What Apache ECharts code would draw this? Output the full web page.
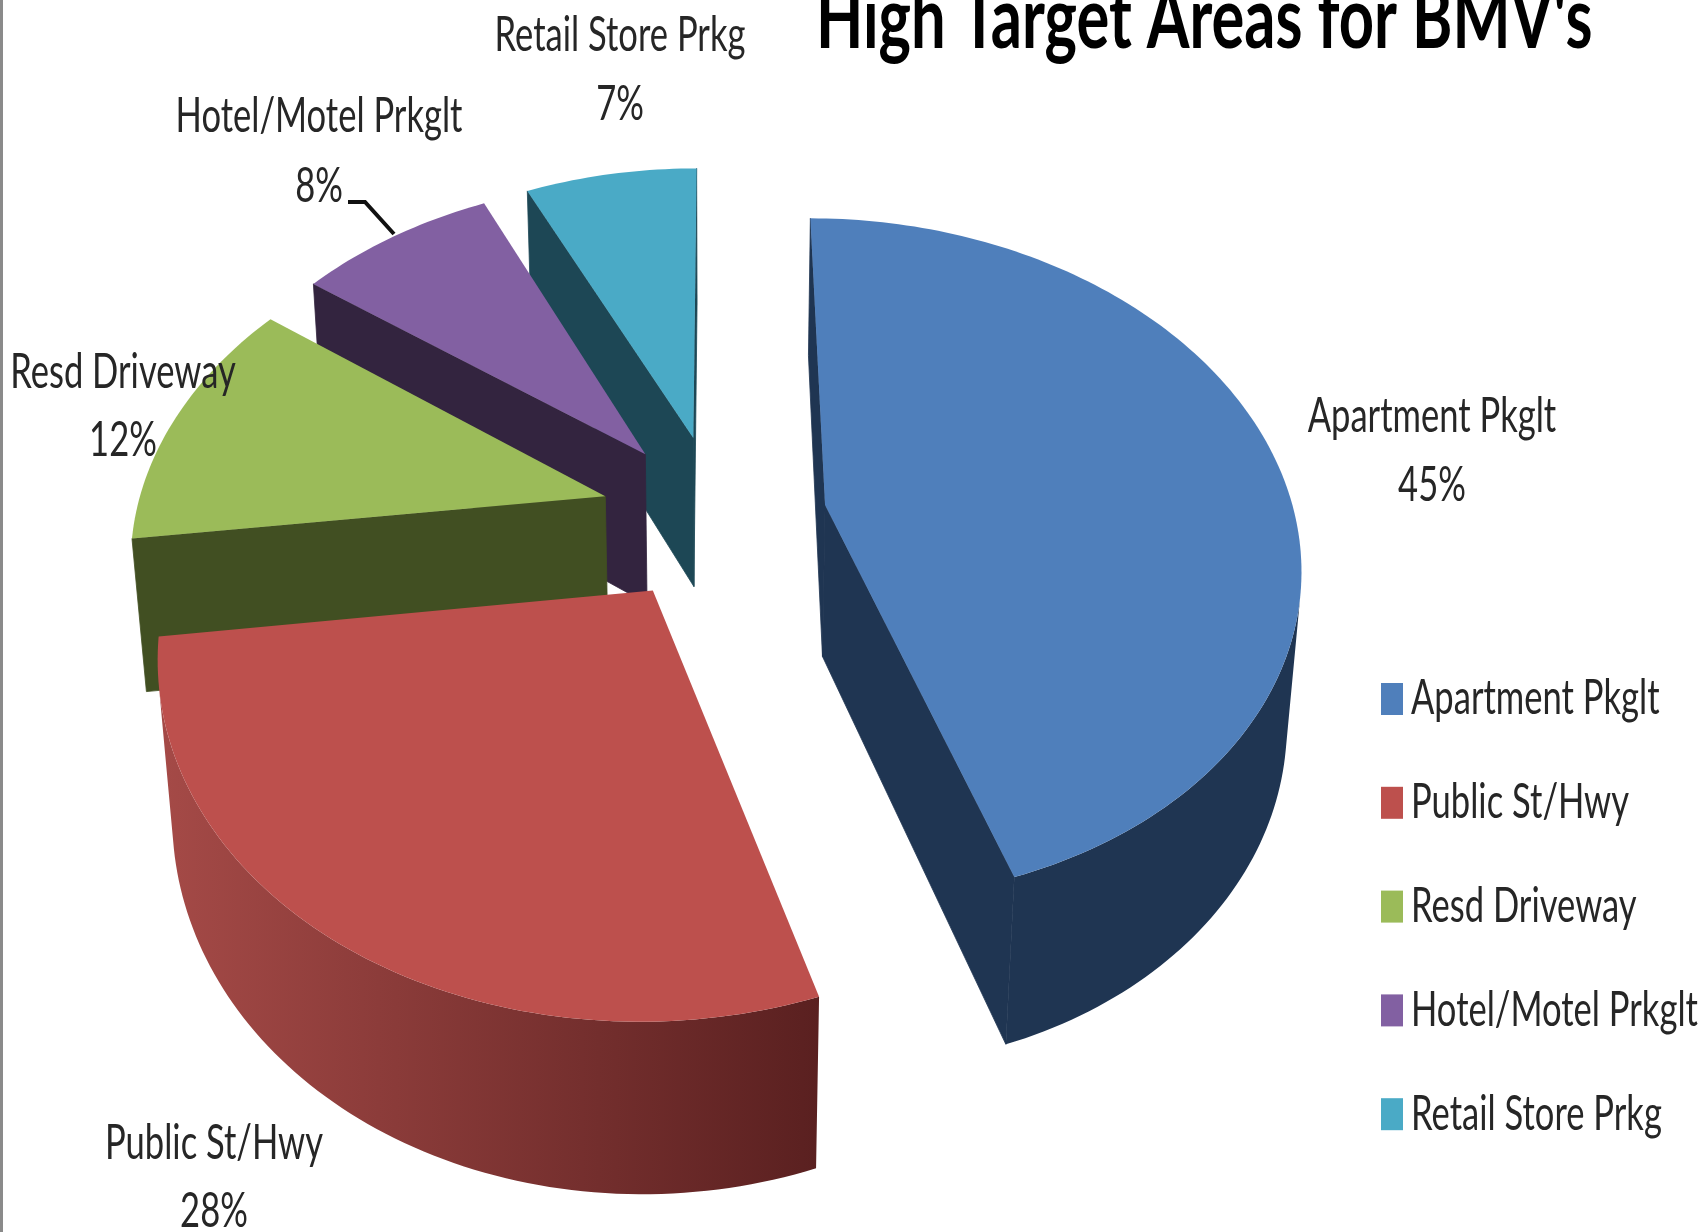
<!DOCTYPE html>
<html>
<head>
<meta charset="utf-8">
<title>High Target Areas for BMV's</title>
<script src="https://cdn.jsdelivr.net/npm/echarts@6/dist/echarts.min.js"></script>
<style>
    html, body { margin: 0; padding: 0; background: #fff; }
    #main { width: 1704px; height: 1232px; }
</style>
</head>
<body>
<div id="main"></div>
<script>
const categories = ['Apartment Pkglt', 'Public St/Hwy', 'Resd Driveway', 'Hotel/Motel Prkglt', 'Retail Store Prkg']
const shares = [45, 28, 12, 8, 7]
const topColors = ['#4f7fbb', '#bd504d', '#9bbb59', '#8260a2', '#4aaac6']
const wallFrom = ['#1f3552', '#a54a47', '#414f22', '#33243f', '#1d4755']
const wallTo = ['#1f3552', '#5a2020', '#414f22', '#33243f', '#1d4755']
const explodes = [0.232, 0.25, 0.25, 0.25, 0.25]

// 画的先后：后面的块先画，红色最后
const paintOrder = [3, 5, 2, 1, 0]
const labelFont = 'Lato, "Open Sans", sans-serif'
const labelStretch = 0.72

// 3D投影参数
const view = { cx: 718, cy: 517, a: 470, b: 336, depth: 156, k: 0.16, m: 0.025 }
const labelPlaces = [
    { x: 1432, y: 417, py: 486 },
    { x: 214, y: 1144, py: 1212 },
    { x: 123, y: 373, py: 441 },
    { x: 319, y: 117, py: 187 },
    { x: 620, y: 36, py: 105 }
]

const total = shares.reduce((x, y) => x + y)

const project = (u, v, z) => {
    const w = 1 + view.k * v + view.m * z
    return [view.cx + view.a * u / w, view.cy + (-view.b * v + view.depth * z) / w]
}

const sliceRange = index => {
    const before = shares.slice(0, index).reduce((x, y) => x + y, 0)
    return [before / total * Math.PI * 2, (before + shares[index]) / total * Math.PI * 2]
}

const textStyle = (text, extra) => Object.assign({
    text: text,
    fontFamily: labelFont,
    fontSize: 48,
    fill: '#262626',
    align: 'center',
    verticalAlign: 'middle'
}, extra)

// 侧面是否朝向镜头
const facesCamera = (p, q) => {
    const p0 = project(p[0], p[1], 0)
    const q0 = project(q[0], q[1], 0)
    const p1 = project(p[0], p[1], 1)
    return (q0[0] - p0[0]) * (p1[1] - p0[1]) - (q0[1] - p0[1]) * (p1[0] - p0[0]) < 0
}

const renderSlice = index => () => {
    const [start, end] = sliceRange(index)
    const mid = (start + end) / 2
    const ou = Math.sin(mid) * explodes[index]
    const ov = Math.cos(mid) * explodes[index]
    const steps = Math.ceil((end - start) / 0.02)
    const rim = []
    for (let i = 0; i <= steps; i++) {
        const t = start + (end - start) * i / steps
        rim.push([ou + Math.sin(t), ov + Math.cos(t)])
    }
    const apex = [ou, ov]
    const children = []

    const flatWall = (p, q) => {
        if (!facesCamera(p, q)) {
            return
        }
        const fill = wallFrom[index]
        children.push({
            type: 'polygon',
            shape: { points: [project(p[0], p[1], 0), project(q[0], q[1], 0), project(q[0], q[1], 1), project(p[0], p[1], 1)] },
            style: { fill: fill, stroke: fill, lineWidth: 0.8 }
        })
    }
    flatWall(apex, rim[0])
    flatWall(rim[steps], apex)

    // 外弧从左到右逐渐变暗
    const visible = rim.filter((p, i) => {
        return (i < steps && facesCamera(p, rim[i + 1])) || (i > 0 && facesCamera(rim[i - 1], p))
    })
    if (visible.length > 1) {
        const upper = visible.map(p => project(p[0], p[1], 0))
        const lower = visible.map(p => project(p[0], p[1], 1)).reverse()
        const xs = upper.map(p => p[0])
        children.push({
            type: 'polygon',
            shape: { points: upper.concat(lower) },
            style: {
                fill: {
                    type: 'linear',
                    global: true,
                    x: Math.min(...xs),
                    y: 0,
                    x2: Math.max(...xs),
                    y2: 0,
                    colorStops: [
                        { offset: 0, color: wallFrom[index] },
                        { offset: 1, color: wallTo[index] }
                    ]
                }
            }
        })
    }

    children.push({
        type: 'polygon',
        shape: { points: [apex].concat(rim).map(p => project(p[0], p[1], 0)) },
        style: { fill: topColors[index] }
    })

    if (index === 3) {
        children.push({
            type: 'polyline',
            shape: { points: [[348, 202], [365, 202], [394, 234]] },
            style: { stroke: '#111', lineWidth: 4, fill: null }
        })
    }

    const place = labelPlaces[index]
    children.push({ type: 'text', x: place.x, y: place.y, scaleX: labelStretch, style: textStyle(categories[index]) })
    children.push({ type: 'text', x: place.x, y: place.py, scaleX: labelStretch, style: textStyle(shares[index] + '%') })
    return { type: 'group', children: children }
}

// 图例文字要压窄，legend组件做不到，用graphic画
const legendItems = []
categories.forEach((name, index) => {
    const top = 683 + index * 103.8
    legendItems.push({
        type: 'rect',
        shape: { x: 1381, y: top, width: 22, height: 32 },
        style: { fill: topColors[index] }
    })
    legendItems.push({
        type: 'text',
        x: 1411,
        y: top + 16,
        scaleX: labelStretch,
        style: textStyle(name, { align: 'left' })
    })
})

const chart = echarts.init(document.getElementById('main'))
chart.setOption({
    animation: false,
    backgroundColor: '#fff',
    graphic: [
        {
            type: 'rect',
            shape: { x: 0, y: 0, width: 3, height: 1232 },
            style: { fill: '#8a8a8a' }
        },
        {
            type: 'text',
            x: 816,
            y: 20,
            scaleX: 0.715,
            style: textStyle("High Target Areas for BMV's", { align: 'left', fontWeight: 'bold', fontSize: 86, fill: '#000' })
        }
    ].concat(legendItems),
    series: categories.map((name, index) => ({
        type: 'custom',
        name: name,
        coordinateSystem: 'none',
        z: paintOrder[index] + 2,
        silent: true,
        itemStyle: { color: topColors[index] },
        data: [shares[index]],
        renderItem: renderSlice(index)
    }))
})
</script>
</body>
</html>
